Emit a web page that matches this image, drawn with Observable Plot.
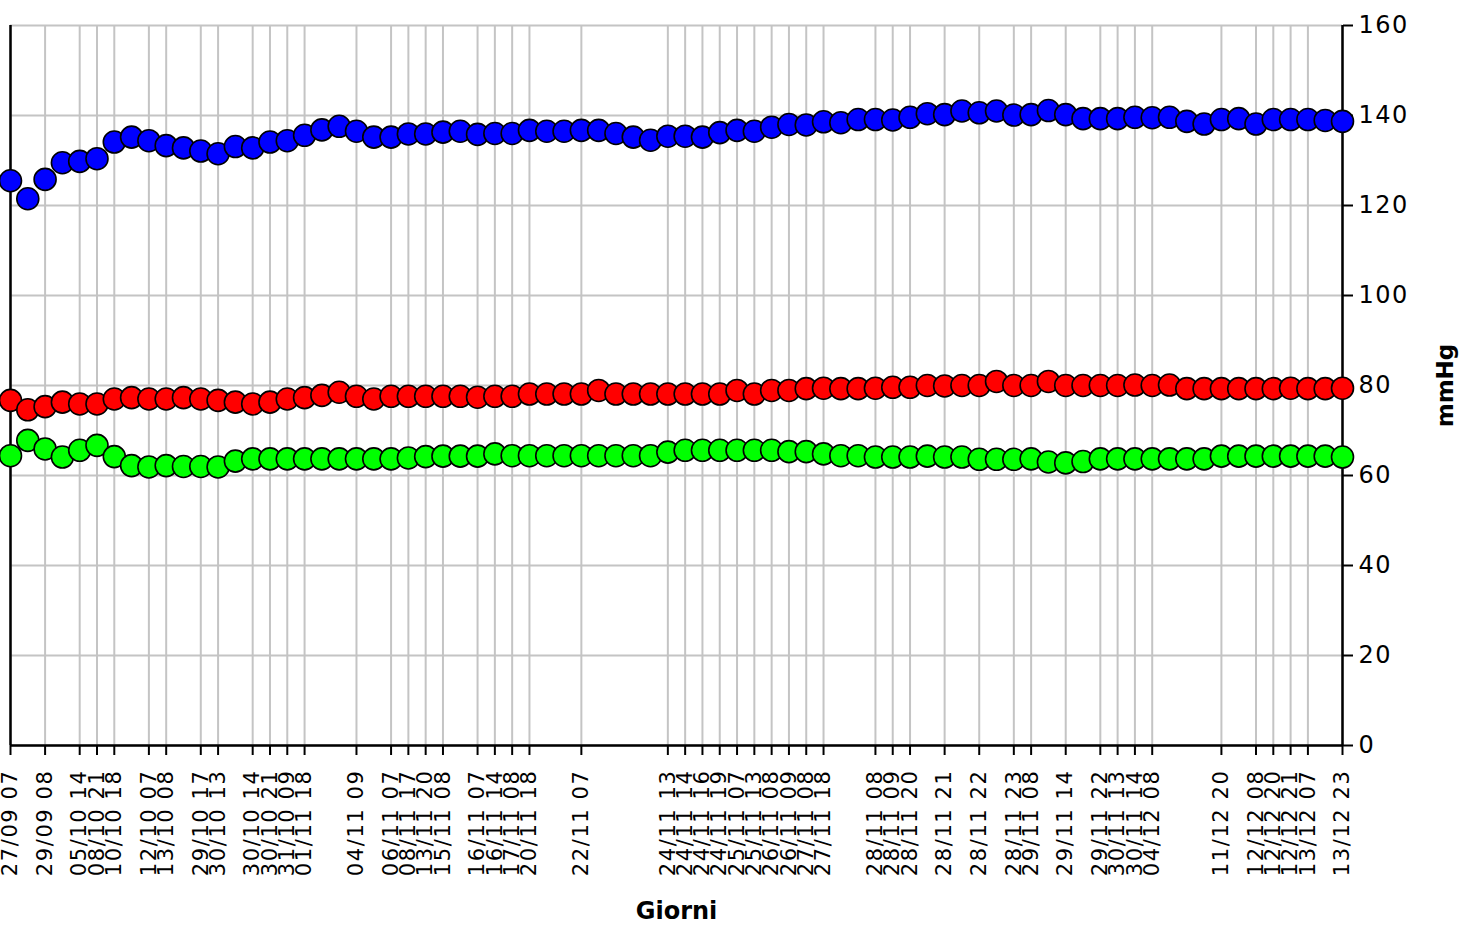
<!DOCTYPE html>
<html><head><meta charset="utf-8">
<script src="https://cdn.jsdelivr.net/npm/d3@7"></script>
<script src="https://cdn.jsdelivr.net/npm/@observablehq/plot@0.6"></script>
<style>
html,body{margin:0;padding:0;background:#fff}
#chart svg{font-family:"DejaVu Sans",sans-serif}
#chart g[aria-label="x-axis tick label"] text{letter-spacing:1.6px}
#chart g[aria-label="y-axis tick label"] text{letter-spacing:1.5px}
</style></head><body><div id="chart"></div>
<script>
// Pressione massima (blu), minima (rosso), frequenza (verde) — una misura per giorno/ora
const massima = [125.5,121.5,125.8,129.5,129.8,130.4,134.1,135.2,134.4,133.3,132.8,132.1,131.5,133.1,132.8,134.1,134.4,135.6,136.8,137.6,136.5,135.2,135.2,135.9,135.9,136.3,136.5,135.8,136.0,136.0,136.7,136.5,136.5,136.7,136.7,136.0,135.2,134.5,135.4,135.4,135.2,136.2,136.7,136.5,137.4,138.0,137.9,138.6,138.4,139.1,139.1,139.0,139.6,140.4,140.2,141.0,140.6,141.0,140.1,140.2,141.1,140.2,139.3,139.3,139.3,139.6,139.5,139.6,138.7,138.1,139.1,139.3,138.1,139.1,139.1,139.1,138.9,138.7];
const minima = [76.7,74.6,75.3,76.3,75.9,75.9,77.0,77.3,77.0,77.0,77.3,77.0,76.7,76.3,75.9,76.3,77.0,77.3,77.8,78.5,77.6,77.0,77.6,77.6,77.6,77.6,77.6,77.4,77.6,77.6,78.1,78.1,78.1,78.1,78.9,78.1,78.1,78.1,78.1,78.1,78.1,78.1,78.9,78.1,78.9,78.9,79.3,79.4,79.3,79.3,79.4,79.6,79.6,80.0,79.9,80.0,80.0,80.9,80.0,80.0,80.9,80.0,80.0,80.0,80.0,80.1,80.0,80.1,79.3,79.3,79.3,79.3,79.3,79.3,79.4,79.3,79.3,79.4];
const frequenza = [64.4,67.8,65.9,64.1,65.6,66.7,64.2,62.2,61.9,62.2,62.0,62.0,61.9,63.2,63.7,63.7,63.7,63.7,63.7,63.7,63.7,63.7,63.7,63.9,64.2,64.3,64.3,64.3,64.8,64.4,64.4,64.4,64.4,64.4,64.4,64.4,64.4,64.4,65.2,65.6,65.6,65.6,65.6,65.6,65.6,65.3,65.3,64.8,64.4,64.4,64.1,64.1,64.1,64.3,64.1,64.1,63.6,63.6,63.6,63.7,63.0,62.8,63.1,63.7,63.7,63.7,63.7,63.7,63.7,63.7,64.3,64.3,64.3,64.3,64.3,64.3,64.3,64.1];
// Categorie etichettate (indice della misura) e relative etichette
const tickPos = [0,2,4,5,6,8,9,11,12,14,15,16,17,20,22,23,24,25,27,28,29,30,33,38,39,40,41,42,43,44,45,46,47,50,51,52,54,56,58,59,61,63,64,65,66,70,72,73,74,75,77];
const tickLabels = ["27/09 07","29/09 08","05/10 14","08/10 21","10/10 18","12/10 07","13/10 08","29/10 17","30/10 13","30/10 14","30/10 21","31/10 09","01/11 18","04/11 09","06/11 07","08/11 17","13/11 20","15/11 08","16/11 07","16/11 14","17/11 08","20/11 18","22/11 07","24/11 13","24/11 14","24/11 16","24/11 19","25/11 07","25/11 13","26/11 08","26/11 09","27/11 08","27/11 18","28/11 08","28/11 09","28/11 20","28/11 21","28/11 22","28/11 23","29/11 08","29/11 14","29/11 22","30/11 13","30/11 14","04/12 08","11/12 20","12/12 08","12/12 20","12/12 21","13/12 07","13/12 23"];
const yTicks = [0,20,40,60,80,100,120,140,160];
const xTitle = "Giorni";
const yTitle = "mmHg";

const n = massima.length;
const idx = d3.range(n);
const labelMap = new Map(tickPos.map((p, i) => [p, tickLabels[i]]));
const series = [
  {values: frequenza, fill: "#00ff00"},
  {values: minima, fill: "#ff0000"},
  {values: massima, fill: "#0000ff"}
];

const chart = Plot.plot({
  width: 1472,
  height: 926,
  marginLeft: 10,
  marginRight: 130,
  marginTop: 25,
  marginBottom: 181,
  style: {fontFamily: "DejaVu Sans, sans-serif", fontSize: "22px", color: "black", background: "white"},
  x: {domain: [0, n - 1], axis: null},
  y: {domain: [0, 160], axis: null},
  marks: [
    Plot.ruleY(yTicks, {stroke: "#c4c4c4", strokeWidth: 2}),
    Plot.ruleX(tickPos, {stroke: "#c4c4c4", strokeWidth: 2}),
    Plot.ruleX([0], {stroke: "black", strokeWidth: 2.5}),
    Plot.ruleX([n - 1], {stroke: "black", strokeWidth: 2.5}),
    Plot.ruleY([0], {stroke: "black", strokeWidth: 2.5}),
    Plot.axisX(tickPos, {
      anchor: "bottom",
      tickFormat: d => labelMap.get(d),
      tickRotate: -90,
      tickSize: 10,
      tickPadding: 14,
      strokeWidth: 2,
      fontSize: 21,
      label: null
    }),
    Plot.axisY(yTicks, {
      anchor: "right",
      tickSize: 10,
      tickPadding: 6,
      strokeWidth: 2,
      fontSize: 24,
      label: null
    }),
    Plot.text([xTitle], {frameAnchor: "bottom", dy: 166, lineAnchor: "middle", fontSize: 24, fontWeight: "bold", text: d => d}),
    Plot.text([yTitle], {frameAnchor: "right", dx: 103, rotate: -90, textAnchor: "middle", lineAnchor: "middle", fontSize: 23, fontWeight: "bold", text: d => d}),
    ...series.map(s => Plot.dot(idx, {
      x: i => i,
      y: i => s.values[i],
      r: 11,
      fill: s.fill,
      stroke: "black",
      strokeWidth: 1.6
    }))
  ]
});
document.getElementById("chart").append(chart);
</script>
</body></html>
